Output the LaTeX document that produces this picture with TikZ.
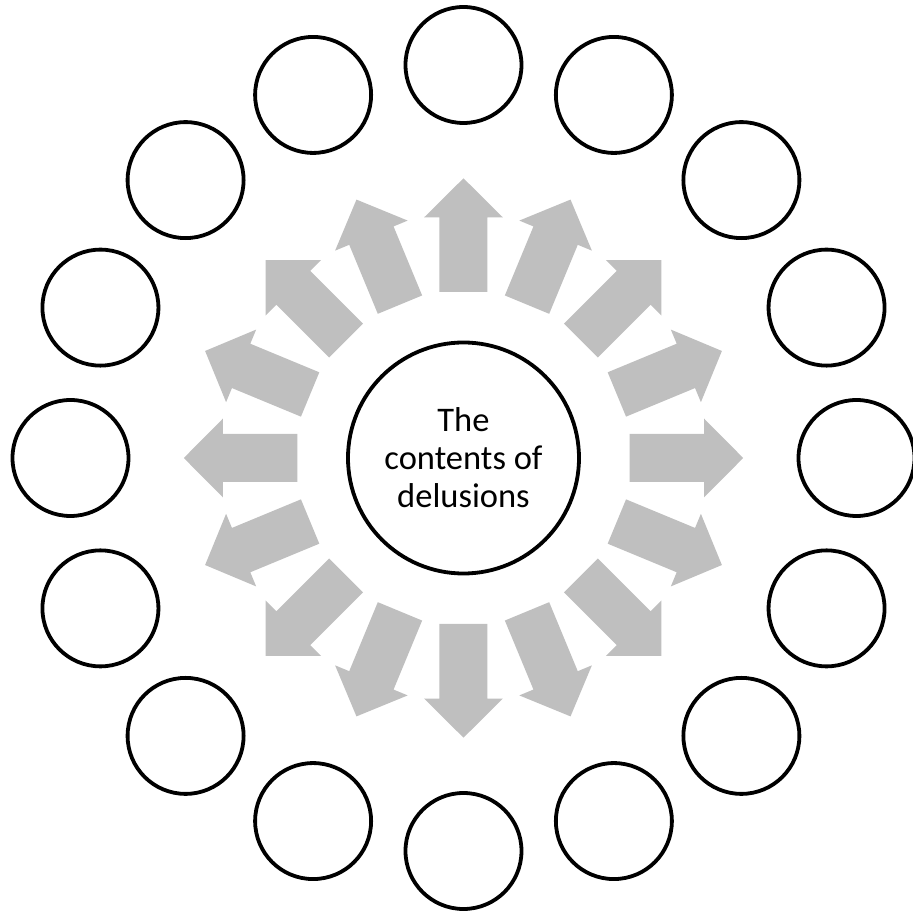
\documentclass[tikz,border=0pt]{standalone}
\usepackage{fontspec}
\setmainfont{Carlito}
\definecolor{arrowgray}{RGB}{191,191,191}
\tikzset{
  outercirc/.style={circle, draw=black, line width=3.8pt, minimum size=116pt, inner sep=0pt},
  centercirc/.style={circle, draw=black, line width=3.8pt, minimum size=231pt, inner sep=0pt, align=center,
    font=\fontsize{34.5}{38}\selectfont},
  blockarrow/.style={fill=arrowgray, draw=none}
}
\begin{document}
\begin{tikzpicture}[x=1pt,y=1pt]
\useasboundingbox (-463.5,-454) rectangle (449.5,458);
\node[centercirc] (center) at (0,0) {The\\contents of\\delusions};
\foreach \i in {0,...,15}{
  \pgfmathsetmacro{\ang}{90-22.5*\i}
  \node[outercirc] (c\i) at (\ang:393) {};
  \fill[blockarrow, rotate=\ang] (166,-24) -- (240.7,-24) -- (240.7,-39.3) -- (279.7,0) -- (240.7,39.3) -- (240.7,24) -- (166,24) -- cycle;
}
\end{tikzpicture}
\end{document}
